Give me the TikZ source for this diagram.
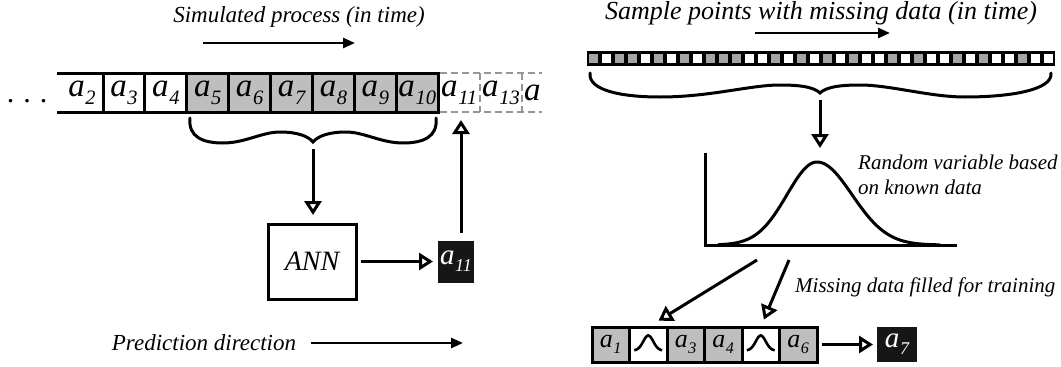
\documentclass[tikz,border=0pt]{standalone}
\usepackage{fontspec}
\setmainfont{Liberation Serif}[ItalicFont=* Italic, BoldItalicFont=* Bold Italic]
\usepackage{graphicx}
\usetikzlibrary{arrows.meta}
\definecolor{cellgrey}{RGB}{190,190,190}
\definecolor{sqgrey}{RGB}{165,165,165}
\definecolor{dashgrey}{RGB}{150,150,150}
\definecolor{boxblack}{RGB}{22,22,22}
\newcommand\av[1]{a\kern0.02em\raisebox{-0.24em}{\scalebox{0.62}{#1}}}
\newcommand\fs[1]{\fontsize{#1}{#1}\selectfont}
\begin{document}
\begin{tikzpicture}[x=1pt,y=-1pt,
  thickline/.style={line width=3pt},
  cellL/.style={draw, line width=3pt, outer sep=0pt, minimum width=41.9pt, minimum height=39pt, inner sep=0pt, font=\itshape\fs{33}},
  dcell/.style={outer sep=0pt, minimum width=41.9pt, minimum height=39pt, inner sep=0pt, font=\itshape\fs{33}},
  dashline/.style={draw=dashgrey, dash pattern=on 7pt off 4pt, line width=2.2pt},
  cellR/.style={draw, line width=3pt, outer sep=0pt, minimum width=37.5pt, minimum height=35pt, inner sep=0pt, font=\itshape\fs{26}},
  blackbox/.style={fill=boxblack, text=white, inner sep=0pt, outer sep=0pt, font=\itshape\fs{29}},
  openarrow/.style={line width=3pt, -{Triangle[open, length=14pt, width=17pt, line width=3pt]}},
  fillarrow/.style={line width=2.6pt, -{Triangle[length=12pt, width=10pt]}},
  bracepath/.style={line width=3pt, line cap=round},
  lbl/.style={inner sep=0pt, font=\itshape\fs{23}},
  lblsmall/.style={inner sep=0pt, font=\itshape\fontsize{21}{25}\selectfont, align=left},
]
\useasboundingbox (0,0) rectangle (1061,367);

% ---------------- left panel ----------------
\node[lbl] (tl) at (299,17) {Simulated process (in time)};
\coordinate (sa) at (203,43);
\coordinate (sb) at (355,43);
\draw[fillarrow] (sa) -- (sb);

\node[inner sep=0pt, font=\fs{30}] (dots) at (27,101) {.\hspace{9pt}.\hspace{9pt}.};

% dashed future cells
\node[dcell] (d11) at (459.15,92.5) {\av{11}};
\node[dcell] (d13) at (501.05,92.5) {\av{13}};
\node[inner sep=0pt, anchor=west, font=\itshape\fs{33}] (d14) at (524,92.5) {a};

\node[dcell] (c2) at (82,92.5) {\av{2}};
\foreach \i/\xc/\col in {3/123.95/white,4/165.85/white,5/207.75/cellgrey,6/249.65/cellgrey,7/291.55/cellgrey,8/333.45/cellgrey,9/375.35/cellgrey,10/417.25/cellgrey}
  \node[cellL, fill=\col] (c\i) at (\xc,92.5) {\av{\i}};
\draw[thickline] (57,73) -- (c10.north east);
\draw[thickline] (57,112) -- (c10.south east);
\draw[dashline] ([xshift=1.5pt]c10.north east) -- (542,73);
\draw[dashline] ([xshift=1.5pt]c10.south east) -- (542,112);
\draw[dashline] (d11.north east) -- (d11.south east);
\draw[dashline] (d13.north east) -- (d13.south east);

% brace
\draw[bracepath] (190,118) .. controls (188,137) and (203,143) .. (223,143)
  .. controls (245,143) and (262,132) .. (280,132)
  .. controls (297,132) and (308,136) .. (313,142) coordinate (lcusp)
  .. controls (318,136) and (329,132) .. (346,132)
  .. controls (364,132) and (381,143) .. (403,143)
  .. controls (423,143) and (438,137) .. (436,118);

\node[draw, line width=3pt, outer sep=0pt, minimum width=88pt, minimum height=75pt, font=\itshape\fs{28}] (ann) at (312,261.5) {ANN};
\node[blackbox, minimum width=36pt, minimum height=42pt] (p11) at (456,261.5) {\av{11}};

\draw[openarrow, shorten <=7pt, shorten >=9pt] (lcusp) -- (lcusp |- ann.north);
\draw[openarrow, shorten <=5pt, shorten >=5pt] (ann.east) -- (p11.west);
\coordinate (up0) at ([xshift=5pt]p11.north);
\draw[openarrow, shorten <=8pt, shorten >=8pt] (up0) -- (up0 |- d11.south);

\node[lbl] (pd) at (204,343) {Prediction direction};
\coordinate (pe) at (463,343);
\draw[fillarrow, shorten <=15pt] (pd.east) -- (pe);

% ---------------- right panel ----------------
\node[inner sep=0pt, font=\itshape\fs{26}] (tr) at (821,13) {Sample points with missing data (in time)};
\coordinate (ra) at (755,33);
\coordinate (rb) at (890,33);
\draw[fillarrow] (ra) -- (rb);

\node[fill=black, inner sep=0pt, outer sep=0pt, minimum width=468pt, minimum height=15pt, anchor=north west] (strip) at (587,51) {};
\foreach \c [count=\i] in {sqgrey,white,sqgrey,sqgrey,white,sqgrey,white,sqgrey,white,sqgrey,sqgrey,sqgrey,white,white,sqgrey,white,sqgrey,white,sqgrey,white,sqgrey,white,white,sqgrey,white,sqgrey,white,white,sqgrey,white,sqgrey,white,white,sqgrey,white,white}
  \node[fill=\c, inner sep=0pt, minimum size=9.6pt] (s\i) at ({587+13*(\i-0.5)},58.5) {};

\draw[bracepath] (590,73) .. controls (588,90) and (620,97) .. (660,97)
  .. controls (710,97) and (750,85) .. (780,85)
  .. controls (800,85) and (814,87) .. (820,93) coordinate (rcusp)
  .. controls (826,87) and (840,85) .. (860,85)
  .. controls (890,85) and (930,97) .. (965,97)
  .. controls (1010,97) and (1053,90) .. (1051,73);

% distribution
\coordinate (axtop) at (705,153);
\coordinate (origin) at (705,245);
\coordinate (axend) at (957,245);
\coordinate (peak) at (820,162);
\draw[line width=3pt] (axtop) -- (origin) -- (axend);
\draw[line width=3pt] plot[domain=718:817, samples=60] (\x, {245-83*exp(-((\x-817)/30)^2/2)})
  -- plot[domain=817:940, samples=60] (\x, {245-83*exp(-((\x-817)/35)^2/2)});
\draw[openarrow, shorten <=7pt, shorten >=14pt] (rcusp) -- (rcusp |- peak);

\node[lblsmall, anchor=west] (rv) at (858,174.5) {Random variable based\\on known data};
\node[lblsmall, anchor=west] (mf) at (795,287) {Missing data filled for training};

% bottom strip
\node[cellR, fill=cellgrey] (r1) at (610.75,344.5) {\av{1}};
\node[cellR, fill=white] (r2) at (648.25,344.5) {};
\node[cellR, fill=cellgrey] (r3) at (685.75,344.5) {\av{3}};
\node[cellR, fill=cellgrey] (r4) at (723.25,344.5) {\av{4}};
\node[cellR, fill=white] (r5) at (760.75,344.5) {};
\node[cellR, fill=cellgrey] (r6) at (798.25,344.5) {\av{6}};
\foreach \b in {r2,r5}
  \draw[line width=2.6pt, shift={(\b.center)}] plot[domain=-14:14, samples=40] (\x, {6-15*exp(-(\x/5)^2/2)});
\node[blackbox, minimum width=40pt, minimum height=35pt] (p7) at (897,344.5) {\av{7}};

\coordinate (f1) at (757,260);
\coordinate (f2) at (789,260);
\draw[openarrow, shorten >=12pt] (f1) -- (r2.north);
\draw[openarrow, shorten >=8pt] (f2) -- (r5.north);
\draw[openarrow, shorten <=5pt, shorten >=4pt] (r6.east) -- (p7.west);
\end{tikzpicture}
\end{document}
